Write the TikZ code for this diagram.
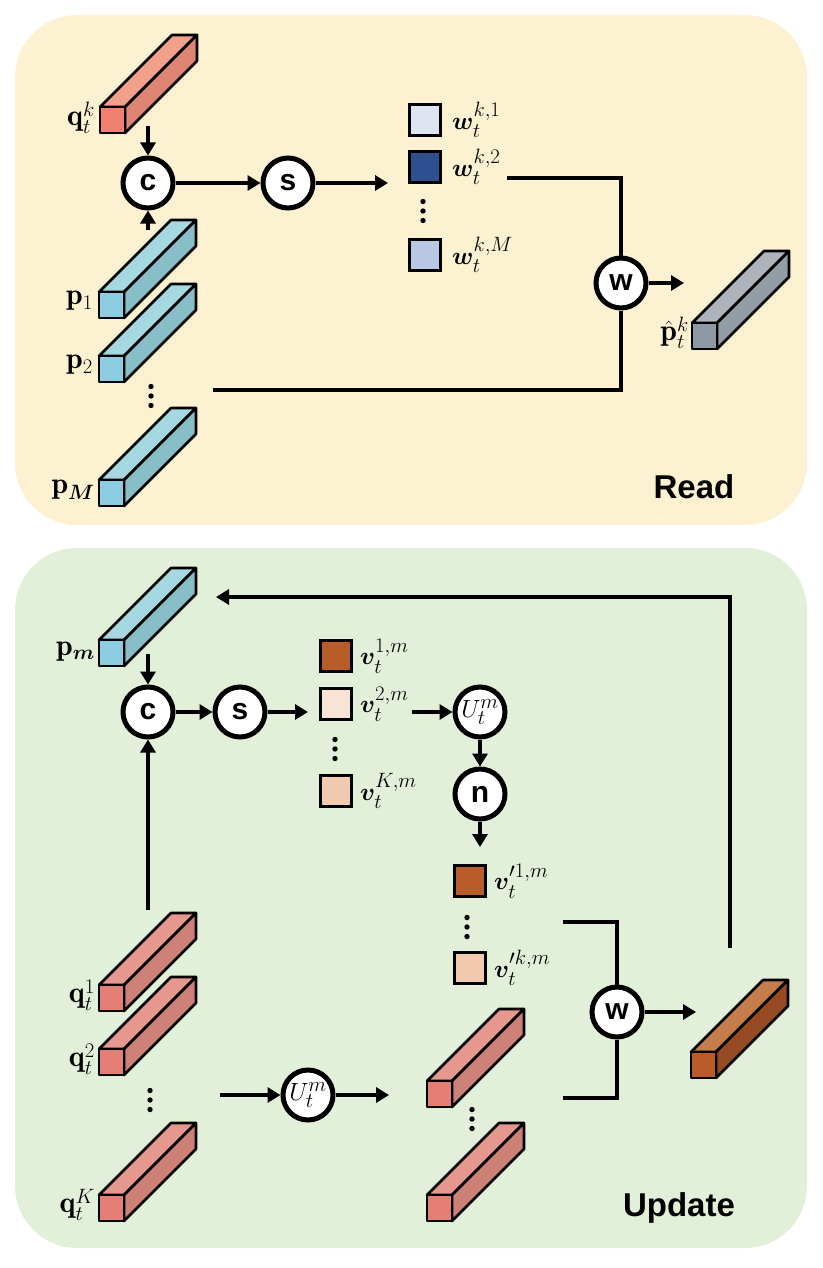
\documentclass[tikz,border=0pt]{standalone}
\usepackage{fontspec}
\setsansfont{Liberation Sans}
\usepackage{amsmath,bm}
\usetikzlibrary{arrows.meta}
\DeclareMathSizes{30}{30}{22}{16}
\DeclareMathSizes{26}{26}{19.5}{14}
\DeclareMathSizes{27}{27}{20}{15}
\definecolor{readbg}{RGB}{252,241,209}
\definecolor{updbg}{RGB}{226,239,217}
\definecolor{blF}{RGB}{140,205,225}
\definecolor{blT}{RGB}{166,216,226}
\definecolor{blS}{RGB}{136,190,200}
\definecolor{saF}{RGB}{240,128,110}
\definecolor{saT}{RGB}{242,160,140}
\definecolor{saS}{RGB}{222,132,115}
\definecolor{rdF}{RGB}{229,127,117}
\definecolor{rdT}{RGB}{230,152,142}
\definecolor{rdS}{RGB}{205,128,118}
\definecolor{grF}{RGB}{140,152,164}
\definecolor{grT}{RGB}{175,180,188}
\definecolor{grS}{RGB}{148,156,165}
\definecolor{brF}{RGB}{185,92,42}
\definecolor{brT}{RGB}{197,125,75}
\definecolor{brS}{RGB}{150,75,35}
\definecolor{wA}{RGB}{222,228,242}
\definecolor{wB}{RGB}{47,80,143}
\definecolor{wC}{RGB}{184,200,228}
\definecolor{vA}{RGB}{184,92,42}
\definecolor{vB}{RGB}{248,228,214}
\definecolor{vC}{RGB}{242,202,176}
\newcommand{\cubar}[6]{%
  \coordinate (#1) at (#2,#3);
  \begin{scope}[shift={(#2,#3)},line width=2.6pt,line join=round]
    \filldraw[fill=#5] (0,0)--(72,-72)--(97,-72)--(25,0)--cycle;
    \filldraw[fill=#6] (25,0)--(97,-72)--(97,-46)--(25,26)--cycle;
    \filldraw[fill=#4] (0,0) rectangle (25,26);
  \end{scope}}
\newcommand{\threedots}[2]{%
  \fill (#1,#2-9.5) circle (2.7) (#1,#2) circle (2.7) (#1,#2+9.5) circle (2.7);}
\begin{document}
\begin{tikzpicture}[x=1pt,y=-1pt,
  op/.style={circle,draw,line width=5pt,fill=white,minimum size=50pt,inner sep=0pt,
    font=\sffamily\bfseries\fontsize{30}{30}\selectfont},
  conn/.style={line width=4pt},
  arr/.style={conn,-{Triangle[length=13pt,width=15pt]}},
  lab/.style={inner sep=0pt,font=\fontsize{30}{32}\selectfont},
  slab/.style={inner sep=0pt,anchor=west,font=\fontsize{26}{28}\selectfont},
  sq/.style={draw,line width=3pt,minimum size=31pt,inner sep=0pt},
  title/.style={inner sep=0pt,font=\sffamily\bfseries\fontsize{33}{33}\selectfont}]
\useasboundingbox (0,0) rectangle (822,1268);
% panels
\fill[readbg,rounded corners=62pt] (15,15) rectangle (807,525);
\fill[updbg,rounded corners=62pt] (15,548) rectangle (807,1248);

% ---------------- READ ----------------
\cubar{qk}{100}{107}{saF}{saT}{saS}
\node[lab,anchor=east] (qkl) at (95,118) {$\mathbf{q}_t^k$};
\cubar{p1}{99}{292}{blF}{blT}{blS}
\node[lab,anchor=east] (p1l) at (93,301) {$\mathbf{p}_1$};
\cubar{p2}{99}{356}{blF}{blT}{blS}
\node[lab,anchor=east] (p2l) at (93,365) {$\mathbf{p}_2$};
\threedots{151}{396}
\cubar{pM}{99}{480}{blF}{blT}{blS}
\node[lab,anchor=east] (pMl) at (95,490) {$\mathbf{p}_{\bm{M}}$};

\node[op] (c1) at (148,183) {c};
\node[op] (s1) at (288,183) {s};
\coordinate (c1in) at (148,126);
\coordinate (c1in2) at (148,230);
\draw[arr] (c1in) -- (c1.north);
\draw[arr] (c1in2) -- (c1.south);
\draw[arr] (c1) -- (s1);
\coordinate (s1out) at (388,183);
\draw[arr] (s1) -- (s1out);

\node[sq,fill=wA] (w1) at (425,120) {};
\node[sq,fill=wB] (w2) at (425,167) {};
\threedots{423}{211}
\node[sq,fill=wC] (wM) at (425,255) {};
\node[slab] (w1l) at (452,120) {$\bm{w}_t^{k,1}$};
\node[slab] (w2l) at (452,167) {$\bm{w}_t^{k,2}$};
\node[slab] (wMl) at (452,255) {$\bm{w}_t^{k,M}$};

\node[op] (W1) at (621,283) {w};
\coordinate (wline) at (507,178);
\coordinate (pline) at (213,390);
\draw[conn] (wline) -| (W1.north);
\draw[conn] (pline) -| (W1.south);
\coordinate (W1out) at (684,283);
\draw[arr] (W1) -- (W1out);
\cubar{ph}{692}{323}{grF}{grT}{grS}
\node[lab,anchor=east] (phl) at (689,333) {$\hat{\mathbf{p}}_t^k$};
\node[title] (read) at (694,487) {Read};

% ---------------- UPDATE ----------------
\cubar{pm}{99}{640}{blF}{blT}{blS}
\node[lab,anchor=east] (pml) at (95,652) {$\mathbf{p}_{\bm{m}}$};
\node[op] (c2) at (148,712) {c};
\node[op] (s2) at (240,712) {s};
\coordinate (c2in) at (148,654);
\draw[arr] (c2in) -- (c2.north);
\draw[arr] (c2) -- (s2);
\coordinate (s2out) at (308,712);
\draw[arr] (s2) -- (s2out);

\node[sq,fill=vA] (v1) at (336,656) {};
\node[sq,fill=vB] (v2) at (336,704) {};
\threedots{335}{749}
\node[sq,fill=vC] (vK) at (336,791) {};
\node[slab] (v1l) at (360,656) {$\bm{v}_t^{1,m}$};
\node[slab] (v2l) at (360,704) {$\bm{v}_t^{2,m}$};
\node[slab] (vKl) at (360,791) {$\bm{v}_t^{K,m}$};

\node[op,font=\fontsize{27}{27}\selectfont] (U1) at (480,712) {$U_t^m$};
\node[op] (n1) at (480,794) {n};
\coordinate (v2out) at (412,712);
\draw[arr] (v2out) -- (U1);
\draw[arr] (U1) -- (n1);
\coordinate (n1out) at (480,847);
\draw[arr] (n1) -- (n1out);

\node[sq,fill=vA] (vp1) at (470,881) {};
\threedots{467}{927}
\node[sq,fill=vC] (vpk) at (470,968) {};
\node[slab] (vp1l) at (494,881) {$\bm{v}_t^{\prime 1,m}$};
\node[slab] (vpkl) at (494,968) {$\bm{v}_t^{\prime k,m}$};

\node[op] (W2) at (617,1012) {w};
\coordinate (vline) at (563,922);
\coordinate (qline) at (563,1098);
\draw[conn] (vline) -| (W2.north);
\draw[conn] (qline) -| (W2.south);
\coordinate (W2out) at (696,1012);
\draw[arr] (W2) -- (W2out);
\cubar{out}{691}{1052}{brF}{brT}{brS}
\coordinate (fbstart) at (730,948);
\coordinate (fbend) at (216,597);
\draw[arr] (fbstart) |- (fbend);

\cubar{q1}{99}{985}{rdF}{rdT}{rdS}
\node[lab,anchor=east] (q1l) at (95,995) {$\mathbf{q}_t^1$};
\cubar{q2}{99}{1049}{rdF}{rdT}{rdS}
\node[lab,anchor=east] (q2l) at (95,1059) {$\mathbf{q}_t^2$};
\threedots{150}{1100}
\cubar{qK}{99}{1195}{rdF}{rdT}{rdS}
\node[lab,anchor=east] (qKl) at (95,1205) {$\mathbf{q}_t^K$};
\coordinate (qup) at (148,910);
\draw[arr] (qup) -- (c2.south);

\node[op,font=\fontsize{27}{27}\selectfont] (U2) at (308,1095) {$U_t^m$};
\coordinate (qout) at (220,1095);
\draw[arr] (qout) -- (U2);
\coordinate (U2out) at (389,1095);
\draw[arr] (U2) -- (U2out);
\cubar{r1}{427}{1081}{rdF}{rdT}{rdS}
\threedots{472}{1119}
\cubar{r2}{427}{1195}{rdF}{rdT}{rdS}
\node[title] (upd) at (679,1208) {Update};
\end{tikzpicture}
\end{document}
